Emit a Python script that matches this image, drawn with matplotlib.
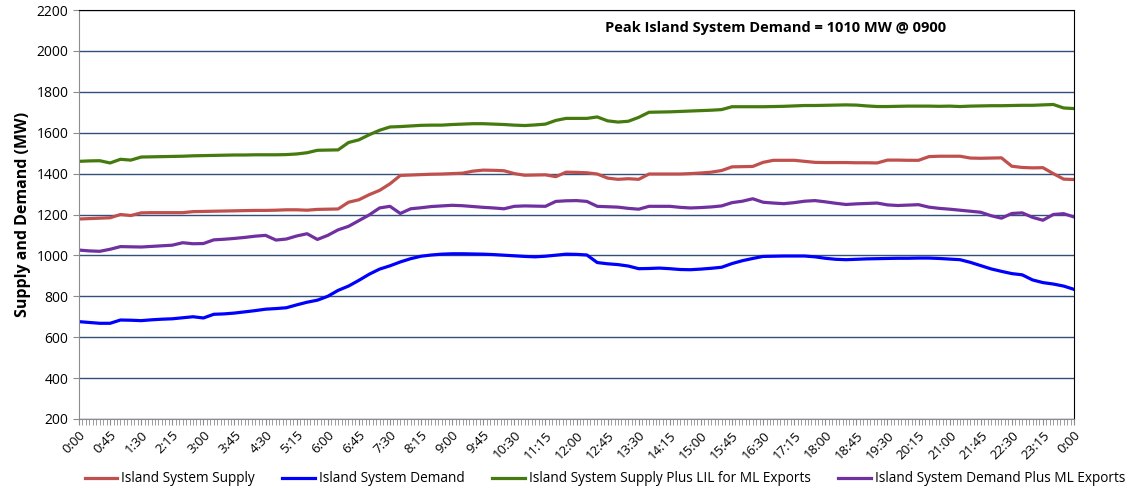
import numpy as np
import matplotlib
matplotlib.use('Agg')
import matplotlib.pyplot as plt
from matplotlib.ticker import MultipleLocator

plt.rcParams['font.family'] = ['Open Sans', 'DejaVu Sans']

# time in minutes from midnight, 15 minute steps
minutes = list(range(0, 1441, 15))

# Island System Supply (MW)
supply = [1178, 1180, 1182, 1184, 1200, 1195, 1208, 1209, 1209, 1209, 1209, 1214, 1215, 1216, 1217, 1218,
          1219, 1220, 1220, 1221, 1223, 1223, 1221, 1225, 1226, 1227, 1260, 1272, 1297, 1318, 1350, 1391,
          1393, 1395, 1397, 1398, 1400, 1402, 1412, 1417, 1416, 1414, 1400, 1392, 1393, 1394, 1385, 1407,
          1406, 1404, 1398, 1378, 1372, 1375, 1372, 1398, 1398, 1398, 1398, 1400, 1403, 1407, 1415, 1433,
          1434, 1435, 1455, 1465, 1465, 1465, 1460, 1455, 1454, 1454, 1454, 1453, 1453, 1452, 1466, 1466,
          1465, 1465, 1483, 1485, 1485, 1485, 1476, 1475, 1476, 1477, 1436, 1430, 1428, 1429, 1400, 1373, 1371]

# Island System Demand (MW)
demand = [676, 672, 668, 668, 684, 683, 681, 685, 688, 690, 695, 700, 694, 712, 714, 718,
          724, 730, 737, 740, 744, 758, 771, 781, 800, 829, 850, 878, 908, 933, 949, 968,
          984, 996, 1002, 1006, 1008, 1008, 1007, 1006, 1004, 1001, 998, 995, 993, 996, 1001, 1006,
          1005, 1002, 965, 959, 955, 948, 935, 936, 938, 935, 931, 930, 933, 937, 942, 960,
          974, 985, 995, 996, 997, 997, 997, 993, 986, 981, 979, 981, 983, 984, 985, 986,
          986, 987, 987, 985, 982, 979, 966, 950, 934, 922, 911, 905, 880, 867, 860, 850, 834]

# Island System Supply Plus LIL for ML Exports (MW)
supply_lil = [1460, 1462, 1463, 1452, 1470, 1466, 1481, 1482, 1483, 1484, 1485, 1487, 1488, 1489, 1490, 1491,
              1491, 1492, 1492, 1492, 1493, 1496, 1502, 1514, 1515, 1516, 1552, 1565, 1590, 1612, 1628, 1630,
              1633, 1636, 1637, 1637, 1640, 1642, 1644, 1644, 1642, 1640, 1637, 1635, 1638, 1642, 1660, 1670,
              1670, 1670, 1677, 1658, 1652, 1656, 1675, 1700, 1701, 1702, 1704, 1706, 1708, 1710, 1713, 1727,
              1727, 1727, 1727, 1728, 1729, 1731, 1733, 1733, 1734, 1735, 1736, 1735, 1731, 1728, 1728, 1729,
              1730, 1730, 1730, 1729, 1730, 1728, 1730, 1731, 1732, 1732, 1733, 1734, 1734, 1736, 1738, 1721, 1718]

# Island System Demand Plus ML Exports (MW)
demand_ml = [1026, 1022, 1020, 1030, 1043, 1042, 1041, 1044, 1047, 1050, 1062, 1057, 1058, 1076, 1079, 1083,
             1088, 1094, 1098, 1075, 1080, 1095, 1106, 1078, 1098, 1125, 1142, 1170, 1198, 1232, 1240, 1205,
             1228, 1233, 1239, 1242, 1245, 1243, 1239, 1235, 1232, 1228, 1240, 1242, 1241, 1240, 1264, 1267,
             1268, 1264, 1240, 1238, 1236, 1230, 1226, 1240, 1240, 1240, 1235, 1232, 1234, 1237, 1242, 1258,
             1265, 1277, 1260, 1256, 1253, 1258, 1265, 1268, 1262, 1255, 1249, 1252, 1254, 1256, 1247, 1244,
             1246, 1248, 1236, 1230, 1226, 1221, 1216, 1211, 1194, 1182, 1205, 1208, 1186, 1172, 1200, 1204, 1188]

series = [
    ('Island System Supply', supply, '#C0504D'),
    ('Island System Demand', demand, '#0000FF'),
    ('Island System Supply Plus LIL for ML Exports', supply_lil, '#457A0E'),
    ('Island System Demand Plus ML Exports', demand_ml, '#7030A0'),
]

fig = plt.figure(figsize=(11.37, 4.88), dpi=100)
ax = fig.add_axes([0.0695, 0.1414, 0.8751, 0.8381])

for name, vals, col in series:
    ax.plot(minutes, vals, color=col, linewidth=2.3, label=name, solid_joinstyle='round')

ax.set_xlim(0, 1440)
ax.set_ylim(200, 2200)
ax.yaxis.set_major_locator(MultipleLocator(200))
ax.grid(axis='y', color='#33507A', linewidth=1)
ax.set_axisbelow(True)

# tick labels every 45 minutes, small ticks every 5 minutes
major = list(range(0, 1441, 45))
ax.set_xticks(major)
ax.set_xticklabels(['%d:%02d' % ((m // 60) % 24, m % 60) for m in major],
                   rotation=45, ha='right', rotation_mode='anchor', fontsize=9.5)
ax.xaxis.set_minor_locator(MultipleLocator(5))
ax.tick_params(axis='x', which='both', length=4, color='#8C8C8C', pad=3)
ax.tick_params(axis='y', length=4, color='#8C8C8C', labelsize=10)

for s in ['left', 'bottom']:
    ax.spines[s].set_color('#8C8C8C')
for s in ['top', 'right']:
    ax.spines[s].set_color('black')

ax.set_ylabel('Supply and Demand (MW)', fontsize=11.5, fontweight='bold', labelpad=4)

ax.text(0.529, 0.955, 'Peak Island System Demand = 1010 MW @ 0900', transform=ax.transAxes,
        fontsize=10.5, fontweight='bold', va='center', ha='left')

fig.legend(loc='lower center', bbox_to_anchor=(0.532, -0.022), ncol=4, frameon=False,
           fontsize=9.8, handlelength=2.4, handletextpad=0.3, columnspacing=2.0)

fig.savefig('out.png', dpi=100)
